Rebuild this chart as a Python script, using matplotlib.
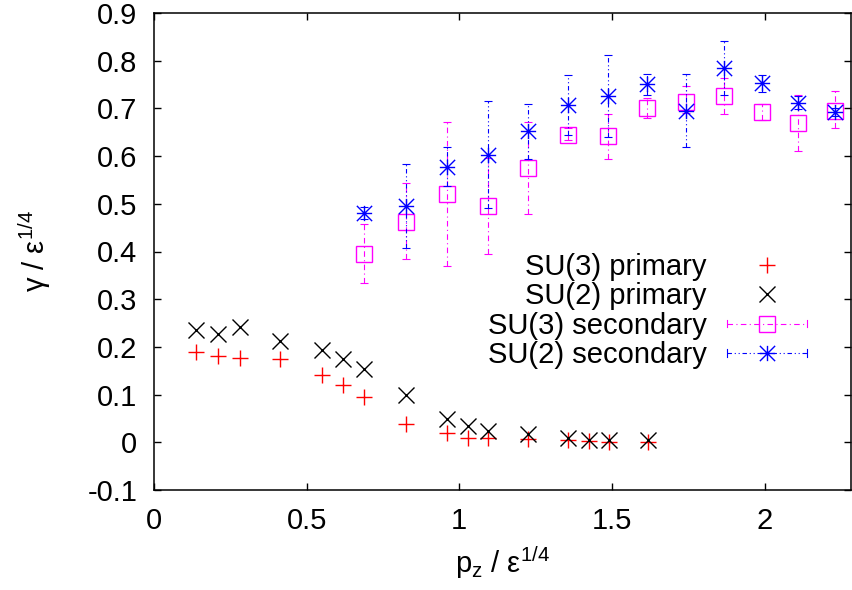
import numpy as np
import matplotlib
matplotlib.use('Agg')
import matplotlib.pyplot as plt
from matplotlib.path import Path
from matplotlib.lines import Line2D
from matplotlib.legend_handler import HandlerLine2D

plt.rcParams['font.family'] = ['Liberation Sans', 'DejaVu Sans']
plt.rcParams['mathtext.fontset'] = 'custom'
plt.rcParams['mathtext.rm'] = 'Liberation Sans'
plt.rcParams['mathtext.default'] = 'regular'
plt.rcParams['font.size'] = 21

# primaries
p_prim = [0.136, 0.209, 0.281, 0.414, 0.550, 0.618, 0.688, 0.826, 0.961, 1.028,
          1.095, 1.226, 1.356, 1.424, 1.490, 1.618]
su3_prim = [0.190, 0.180, 0.176, 0.174, 0.142, 0.120, 0.094, 0.038, 0.020, 0.009,
            0.009, 0.006, 0.005, 0.003, 0.001, 0.000]
su2_prim = [0.235, 0.228, 0.242, 0.212, 0.193, 0.175, 0.153, 0.099, 0.048, 0.034,
            0.024, 0.017, 0.008, 0.005, 0.005, 0.005]

# secondaries (value, lower end, upper end of error bar)
p_sec = [0.687, 0.824, 0.960, 1.093, 1.226, 1.356, 1.488, 1.616, 1.742, 1.867,
         1.990, 2.111, 2.230]
su3_sec = [0.395, 0.462, 0.520, 0.495, 0.575, 0.645, 0.642, 0.700, 0.714, 0.726,
           0.693, 0.670, 0.695]
su3_lo = [0.333, 0.384, 0.369, 0.395, 0.478, 0.633, 0.594, 0.679, 0.690, 0.689,
          0.675, 0.611, 0.658]
su3_hi = [0.457, 0.543, 0.672, 0.595, 0.672, 0.659, 0.689, 0.722, 0.746, 0.764,
          0.709, 0.729, 0.736]
su2_sec = [0.481, 0.495, 0.577, 0.603, 0.652, 0.708, 0.726, 0.751, 0.694, 0.785,
           0.753, 0.712, 0.693]
su2_lo = [0.468, 0.408, 0.537, 0.492, 0.593, 0.645, 0.641, 0.728, 0.619, 0.729,
          0.734, 0.698, 0.685]
su2_hi = [0.494, 0.584, 0.619, 0.715, 0.709, 0.771, 0.811, 0.773, 0.773, 0.841,
          0.771, 0.726, 0.701]

labels = ['SU(3) primary', 'SU(2) primary', 'SU(3) secondary', 'SU(2) secondary']

# gnuplot style asterisk: plus + cross
star = Path([(-1, 0), (1, 0), (0, -1), (0, 1), (-1, -1), (1, 1), (-1, 1), (1, -1)],
            [Path.MOVETO, Path.LINETO] * 4)

ms = 11
dash_m = (0, (5, 3, 1, 3))
dash_b = (0, (4, 2.5, 1, 2.5, 1, 2.5))


class CapHandler(HandlerLine2D):
    # legend sample with small vertical caps at both ends, like gnuplot
    def create_artists(self, legend, orig_handle, xdescent, ydescent, width, height,
                       fontsize, trans):
        arts = super().create_artists(legend, orig_handle, xdescent, ydescent, width,
                                      height, fontsize, trans)
        y = height / 2 - ydescent
        h = 0.13 * fontsize
        for x in (-xdescent, -xdescent + width):
            cap = Line2D([x, x], [y - h, y + h], color=orig_handle.get_color(), lw=0.8)
            cap.set_transform(trans)
            arts.append(cap)
        return arts


fig = plt.figure(figsize=(8.52, 5.90), dpi=100)
ax = fig.add_axes([154/852, 1 - 490/590, 697/852, 477/590])

ax.plot(p_prim, su3_prim, ls='none', marker='+', color='red', ms=ms, mew=1)
ax.plot(p_prim, su2_prim, ls='none', marker='x', color='black', ms=ms, mew=1)

def err(x, y, lo, hi, color, marker, ls, **kw):
    y = np.array(y)
    yerr = [y - np.array(lo), np.array(hi) - y]
    eb = ax.errorbar(x, y, yerr=yerr, fmt='none', ecolor=color, elinewidth=0.8,
                     capsize=3, capthick=0.8)
    eb[2][0].set_linestyle(ls)
    ax.plot(x, y, ls='none', marker=marker, color=color, ms=ms, mew=1, **kw)

err(p_sec, su3_sec, su3_lo, su3_hi, 'magenta', 's', dash_m, mfc='none')
err(p_sec, su2_sec, su2_lo, su2_hi, 'blue', star, dash_b)

ax.set_xlim(0, 2.283)
ax.set_ylim(-0.1, 0.9)
ax.set_xticks([0, 0.5, 1, 1.5, 2])
ax.set_yticks(np.round(np.arange(-0.1, 0.91, 0.1), 1))
ax.xaxis.set_major_formatter(plt.FuncFormatter(lambda v, p: '%g' % v))
ax.yaxis.set_major_formatter(plt.FuncFormatter(lambda v, p: ('%g' % v).replace('\u2212', '-')))
ax.tick_params(direction='in', top=True, right=True, length=5, width=1, pad=12)
for s in ax.spines.values():
    s.set_linewidth(1.1)

ax.set_xlabel('p$_z$ / ε$^{1/4}$', labelpad=7)
ax.set_ylabel('γ / ε$^{1/4}$', labelpad=25)

handles = [
    Line2D([], [], ls='none', marker='+', color='red', ms=ms, mew=1),
    Line2D([], [], ls='none', marker='x', color='black', ms=ms, mew=1),
    Line2D([], [], ls=dash_m, lw=0.8, marker='s', mfc='none', color='magenta', ms=ms, mew=1),
    Line2D([], [], ls=dash_b, lw=0.8, marker=star, color='blue', ms=ms, mew=1),
]
fig.legend(handles, labels, loc='center right', bbox_to_anchor=(807/852, 1 - 311/590),
           frameon=False, markerfirst=False, handlelength=2.75, handletextpad=0.7,
           labelspacing=0.05, borderpad=0, borderaxespad=0,
           handler_map={handles[2]: CapHandler(), handles[3]: CapHandler()})

fig.savefig('out.png', dpi=100)
